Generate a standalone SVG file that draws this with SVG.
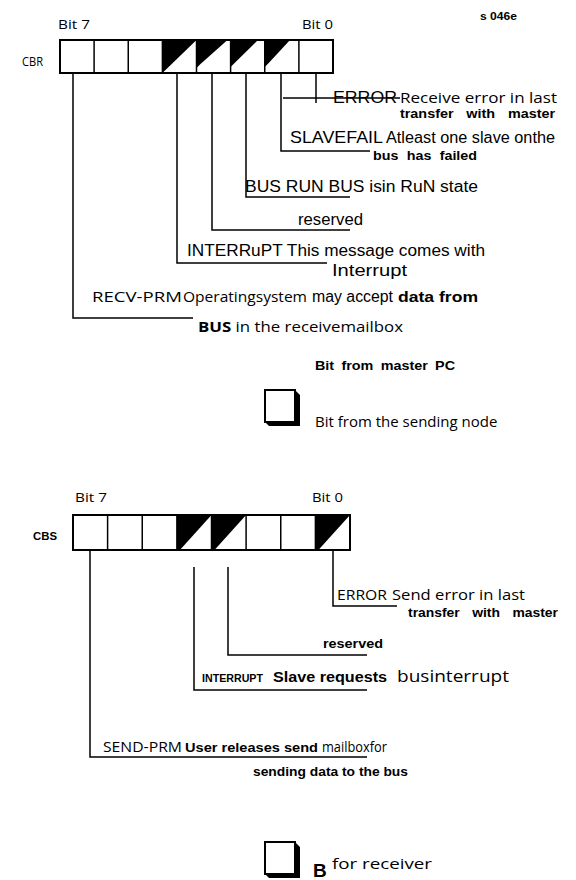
<svg xmlns="http://www.w3.org/2000/svg" width="576" height="880" viewBox="0 0 576 880">
<style>
.bg{fill:#fff}
.box{fill:#fff;stroke:#000;stroke-width:2}
.div{stroke:#000;stroke-width:1.5}
.tri{fill:#000}
.con{fill:none;stroke:#000;stroke-width:1.5}
text{fill:#000}
.f{font-family:"Open Sans","Noto Sans",sans-serif}
.a{font-family:"Liberation Sans",Arial,sans-serif}
.b{font-family:"Liberation Sans",Arial,sans-serif;font-weight:bold}
</style>
<rect class="bg" x="0" y="0" width="576" height="880"/>
<text class="b" x="480" y="20" font-size="11" textLength="37" lengthAdjust="spacingAndGlyphs">s 046e</text>

<g id="cbr">
<text class="f" x="58" y="29" font-size="13" textLength="32" lengthAdjust="spacingAndGlyphs">Bit 7</text>
<text class="f" x="302" y="29" font-size="13" textLength="31" lengthAdjust="spacingAndGlyphs">Bit 0</text>
<text class="f" x="22" y="66" font-size="12" textLength="21" lengthAdjust="spacingAndGlyphs">CBR</text>
<rect class="box" x="60" y="40" width="273" height="33"/>
<polygon class="tri" points="162.4,40 196.5,40 162.4,73"/>
<polygon class="tri" points="196.5,40 227.5,40 200.5,64 196.5,68"/>
<polygon class="tri" points="230.6,40 258,40 233.6,64 230.6,67"/>
<polygon class="tri" points="264.75,40 290,40 267.75,64 264.75,67"/>
<g class="div">
<line x1="94.1" y1="40" x2="94.1" y2="73"/><line x1="128.25" y1="40" x2="128.25" y2="73"/>
<line x1="162.4" y1="40" x2="162.4" y2="73"/><line x1="196.5" y1="40" x2="196.5" y2="73"/>
<line x1="230.6" y1="40" x2="230.6" y2="73"/><line x1="264.75" y1="40" x2="264.75" y2="73"/>
<line x1="298.9" y1="40" x2="298.9" y2="73"/>
</g>
</g>

<g id="cbr-connectors">
<path class="con" d="M73,73 V318 H193"/>
<path class="con" d="M177,73 V263 H327"/>
<path class="con" d="M212,73 V230 H350"/>
<path class="con" d="M246,73 V197 H350"/>
<path class="con" d="M281,73 V151 H370"/>
<path class="con" d="M316,73 V103"/>
<path class="con" d="M283,98 H400"/>
</g>

<g id="cbr-labels">
<text class="a" x="333" y="103" font-size="16" textLength="64" lengthAdjust="spacingAndGlyphs">ERROR</text>
<text class="f" x="400" y="103" font-size="15" textLength="157" lengthAdjust="spacingAndGlyphs">Receive error in last</text>
<text class="b" x="400" y="118" font-size="13" word-spacing="8" textLength="155" lengthAdjust="spacingAndGlyphs">transfer with master</text>
<text class="a" x="290" y="143" font-size="17" textLength="93" lengthAdjust="spacingAndGlyphs">SLAVEFAIL</text>
<text class="a" x="386" y="143" font-size="16" textLength="169" lengthAdjust="spacingAndGlyphs">Atleast one slave onthe</text>
<text class="b" x="373" y="160" font-size="13" word-spacing="4" textLength="104" lengthAdjust="spacingAndGlyphs">bus has failed</text>
<text class="a" x="245" y="192" font-size="16" textLength="233" lengthAdjust="spacingAndGlyphs">BUS RUN BUS isin RuN state</text>
<text class="a" x="298" y="225" font-size="16" textLength="65" lengthAdjust="spacingAndGlyphs">reserved</text>
<text class="a" x="187" y="256" font-size="16" textLength="298" lengthAdjust="spacingAndGlyphs">INTERRuPT This message comes with</text>
<text class="a" x="332" y="276" font-size="16" textLength="75" lengthAdjust="spacingAndGlyphs">Interrupt</text>
<text class="f" x="92" y="302" font-size="14" textLength="90" lengthAdjust="spacingAndGlyphs">RECV-PRM</text>
<text class="f" x="183" y="302" font-size="14" textLength="124" lengthAdjust="spacingAndGlyphs">Operatingsystem</text>
<text class="a" x="312" y="302" font-size="16" textLength="81" lengthAdjust="spacingAndGlyphs">may accept</text>
<text class="b" x="398" y="302" font-size="14" textLength="80" lengthAdjust="spacingAndGlyphs">data from</text>
<text class="f" x="198" y="332" font-size="14" textLength="205" lengthAdjust="spacingAndGlyphs"><tspan font-weight="bold">BUS</tspan> in the receivemailbox</text>
</g>

<g id="legend1">
<text class="b" x="315" y="370" font-size="13" word-spacing="3" textLength="140" lengthAdjust="spacingAndGlyphs">Bit from master PC</text>
<polygon class="tri" points="295,390 300,395 300,426 269,426 265,422 295,422"/>
<rect class="box" x="265" y="390" width="30" height="32"/>
<text class="f" x="315" y="427" font-size="15">Bit from the sending node</text>
</g>

<g id="cbs">
<text class="f" x="75" y="502" font-size="13" textLength="32" lengthAdjust="spacingAndGlyphs">Bit 7</text>
<text class="f" x="312" y="502" font-size="13" textLength="31" lengthAdjust="spacingAndGlyphs">Bit 0</text>
<text class="b" x="33" y="540" font-size="11" textLength="24" lengthAdjust="spacingAndGlyphs">CBS</text>
<rect class="box" x="73" y="515" width="277" height="35"/>
<polygon class="tri" points="176.9,515 211.5,515 179.9,550 176.9,550"/>
<polygon class="tri" points="211.5,515 246.1,515 214.5,550 211.5,550"/>
<polygon class="tri" points="315.4,515 350,515 318.4,550 315.4,550"/>
<g class="div">
<line x1="107.6" y1="515" x2="107.6" y2="550"/><line x1="142.25" y1="515" x2="142.25" y2="550"/>
<line x1="176.9" y1="515" x2="176.9" y2="550"/><line x1="211.5" y1="515" x2="211.5" y2="550"/>
<line x1="246.1" y1="515" x2="246.1" y2="550"/><line x1="280.75" y1="515" x2="280.75" y2="550"/>
<line x1="315.4" y1="515" x2="315.4" y2="550"/>
</g>
</g>

<g id="cbs-connectors">
<path class="con" d="M90,550 V757 H367"/>
<path class="con" d="M194,567 V690 H367"/>
<path class="con" d="M228,567 V655 H367"/>
<path class="con" d="M333,550 V606 H397"/>
</g>

<g id="cbs-labels">
<text class="f" x="337" y="600" font-size="14" textLength="50" lengthAdjust="spacingAndGlyphs">ERROR</text>
<text class="f" x="392" y="600" font-size="15" textLength="133" lengthAdjust="spacingAndGlyphs">Send error in last</text>
<text class="b" x="408" y="617" font-size="13" word-spacing="8" textLength="150" lengthAdjust="spacingAndGlyphs">transfer with master</text>
<text class="b" x="323" y="648" font-size="13" textLength="60" lengthAdjust="spacingAndGlyphs">reserved</text>
<text class="b" x="202" y="682" font-size="11" textLength="61" lengthAdjust="spacingAndGlyphs">INTERRUPT</text>
<text class="b" x="273" y="682" font-size="14" textLength="114" lengthAdjust="spacingAndGlyphs">Slave requests</text>
<text class="f" x="397" y="682" font-size="16" textLength="112" lengthAdjust="spacingAndGlyphs">businterrupt</text>
<text class="f" x="103" y="752" font-size="14" textLength="79" lengthAdjust="spacingAndGlyphs">SEND-PRM</text>
<text class="b" x="185" y="752" font-size="13" textLength="133" lengthAdjust="spacingAndGlyphs">User releases send</text>
<text class="f" x="322" y="752" font-size="14" textLength="65" lengthAdjust="spacingAndGlyphs">mailboxfor</text>
<text class="b" x="253" y="776" font-size="13" textLength="155" lengthAdjust="spacingAndGlyphs">sending data to the bus</text>
</g>

<g id="legend2">
<polygon class="tri" points="295,842 300,847 300,878 269,878 265,874 295,874"/>
<rect class="box" x="265" y="842" width="30" height="32"/>
<text class="b" x="313" y="877" font-size="19">B</text>
<text class="f" x="332" y="869" font-size="15" textLength="100" lengthAdjust="spacingAndGlyphs">for receiver</text>
</g>
</svg>
